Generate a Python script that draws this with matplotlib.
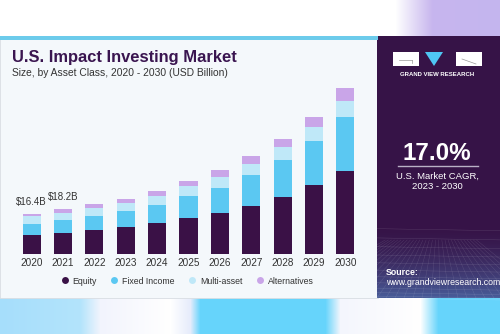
import matplotlib
matplotlib.use('Agg')
import matplotlib.pyplot as plt
import numpy as np
from matplotlib.patches import Rectangle, Polygon
from matplotlib.lines import Line2D
from matplotlib.colors import to_rgb

years = ['2020', '2021', '2022', '2023', '2024', '2025', '2026', '2027', '2028', '2029', '2030']
equity = [7.8, 8.6, 9.7, 11.1, 12.5, 14.6, 16.7, 19.7, 23.3, 28.0, 34.0]
fixed_income = [4.5, 5.4, 6.0, 6.5, 7.6, 9.0, 10.3, 12.4, 14.9, 18.1, 21.8]
multi_asset = [3.3, 2.9, 3.1, 3.3, 3.7, 4.0, 4.5, 4.8, 5.3, 5.7, 6.5]
alternatives = [0.8, 1.3, 1.6, 1.6, 1.8, 2.2, 2.9, 3.0, 3.4, 4.3, 5.3]
series_names = ['Equity', 'Fixed Income', 'Multi-asset', 'Alternatives']
total_labels = ['$16.4B', '$18.2B']

C_EQ = '#3a1146'
C_FI = '#5bc8f2'
C_MA = '#bfe8f8'
C_ALT = '#c9a5e8'
C_PANEL = '#361347'
C_TITLE = '#3a1550'

W, H = 500, 334
FONT = 'Liberation Sans'
fig = plt.figure(figsize=(5, 3.34), dpi=100)

bg = fig.add_axes([0, 0, 1, 1])
bg.set_xlim(0, W)
bg.set_ylim(H, 0)
bg.axis('off')


def hgrad(stops, n=500):
    xs = np.arange(n)
    out = np.zeros((1, n, 3))
    px = [s[0] for s in stops]
    for c in range(3):
        out[0, :, c] = np.interp(xs, px, [to_rgb(s[1])[c] for s in stops])
    return out

# top strip
top = hgrad([(0, '#ffffff'), (395, '#ffffff'), (432, '#c7b5ee'), (500, '#c4b6ee')])
bg.imshow(top, extent=(0, W, 36, 0), aspect='auto', zorder=0)
# bottom strip
bot = hgrad([(0, '#a6defb'), (80, '#b3e4fb'), (100, '#f2f4fd'), (170, '#ffffff'),
             (190, '#e6ecfb'), (200, '#66d4fb'), (325, '#66d4fb'), (340, '#f4f6fd'),
             (420, '#ffffff'), (438, '#66d4fb'), (500, '#66d4fb')])
bg.imshow(bot, extent=(0, W, H, 298), aspect='auto', zorder=0)

# card
bg.add_patch(Rectangle((0, 36), 378, 262, facecolor='#f4f8fb', edgecolor='#d8dde2', lw=0.6, zorder=1))
bg.add_patch(Rectangle((0, 36), 378, 4, facecolor='#6ccbeb', edgecolor='none', zorder=2))

# right panel
bg.add_patch(Rectangle((377, 36), 123, 262, facecolor=C_PANEL, edgecolor='none', zorder=1))
vg = np.zeros((100, 1, 4))
t = np.linspace(0, 1, 100)[:, None]
c2 = np.array(to_rgb('#4c6aa8'))
for c in range(3):
    vg[:, 0, c] = c2[c]
vg[:, 0, 3] = (t[:, 0] ** 1.6) * 0.85
bg.imshow(vg, extent=(377, 500, 298, 225), aspect='auto', zorder=2)
# faint perspective grid
for k in range(12):
    yy = 298 - (k ** 1.5) * 1.9
    bg.plot([377, 500], [yy, yy + 2], color='white', lw=0.3, alpha=0.18, zorder=3)
for k in range(-10, 20):
    x0 = 377 + k * 9
    bg.plot([x0, 438 + (x0 - 438) * 0.35], [298, 240], color='white', lw=0.3, alpha=0.15, zorder=3)

# logo
bg.add_patch(Rectangle((393, 52), 26, 14, facecolor='white', edgecolor='none', zorder=4))
bg.add_patch(Rectangle((456, 52), 26, 14, facecolor='white', edgecolor='none', zorder=4))
bg.add_patch(Polygon([(425, 52), (443, 52), (434, 66)], closed=True, facecolor='#4fc6f3', edgecolor='none', zorder=4))
bg.plot([399, 412], [60, 60], color='#999999', lw=0.5, zorder=5)
bg.plot([412, 412], [60, 63], color='#999999', lw=0.5, zorder=5)
bg.plot([462, 476], [59, 64], color='#999999', lw=0.5, zorder=5)
bg.text(437.5, 74, 'GRAND VIEW RESEARCH', color='white', fontsize=4.3, fontweight='bold',
        family=FONT, ha='center', va='center', zorder=5)

bg.text(437, 153, '17.0%', color='white', fontsize=17.5, fontweight='bold', family=FONT,
        ha='center', va='center', zorder=5)
bg.plot([398, 478], [166, 166], color='#b9b0c6', lw=1.0, zorder=5)
bg.text(437, 176.5, 'U.S. Market CAGR,', color='white', fontsize=6.8, family=FONT,
        ha='center', va='center', zorder=5)
bg.text(437, 186.5, '2023 - 2030', color='white', fontsize=6.8, family=FONT,
        ha='center', va='center', zorder=5)
bg.text(386, 272.5, 'Source:', color='white', fontsize=6.3, fontweight='bold', family=FONT,
        ha='left', va='center', zorder=5)
bg.text(386, 282.5, 'www.grandviewresearch.com', color='white', fontsize=6.3, family=FONT,
        ha='left', va='center', zorder=5)

# titles
bg.text(12.5, 62, 'U.S. Impact Investing Market', color=C_TITLE, fontsize=11.9, fontweight='bold',
        family=FONT, ha='left', va='baseline', zorder=5)
bg.text(12.5, 75.5, 'Size, by Asset Class, 2020 - 2030 (USD Billion)', color='#333333', fontsize=7.4,
        family=FONT, ha='left', va='baseline', zorder=5)

# chart axes
base_px, top_px = 254, 80
ax = fig.add_axes([16 / W, (H - base_px) / H, 345 / W, (base_px - top_px) / H])
ax.set_facecolor('none')
x = np.arange(len(years))
bw = 0.575
bottom = np.zeros(len(years))
for vals, col in zip([equity, fixed_income, multi_asset, alternatives], [C_EQ, C_FI, C_MA, C_ALT]):
    ax.bar(x, vals, bw, bottom=bottom, color=col, edgecolor='none', zorder=3)
    bottom = bottom + np.array(vals)
ax.set_xlim(-0.5, len(years) - 0.5)
ax.set_ylim(0, (base_px - top_px) / 2.45)
for i, lab in enumerate(total_labels):
    ax.annotate(lab, (x[i], bottom[i]), xytext=(0, 5), textcoords='offset points',
                ha='center', va='bottom', fontsize=7, family=FONT, color='#333333')
ax.set_xticks(x, years)
ax.tick_params(axis='x', length=0, pad=3, labelsize=7.2, labelcolor='#333333')
for lb in ax.get_xticklabels():
    lb.set_family(FONT)
ax.set_yticks([])
for s in ax.spines.values():
    s.set_visible(False)

handles = [Line2D([], [], marker='o', linestyle='none', markersize=5, color=c, markeredgecolor='none')
           for c in [C_EQ, C_FI, C_MA, C_ALT]]
fig.legend(handles, series_names, loc='center left', bbox_to_anchor=(61 / W, 1 - 281 / H),
           ncol=4, frameon=False, borderpad=0, borderaxespad=0, handlelength=0.85,
           handletextpad=0.45, columnspacing=1.6, prop={'family': FONT, 'size': 6.3},
           labelcolor='#333333')

fig.savefig('out.png', dpi=100)
